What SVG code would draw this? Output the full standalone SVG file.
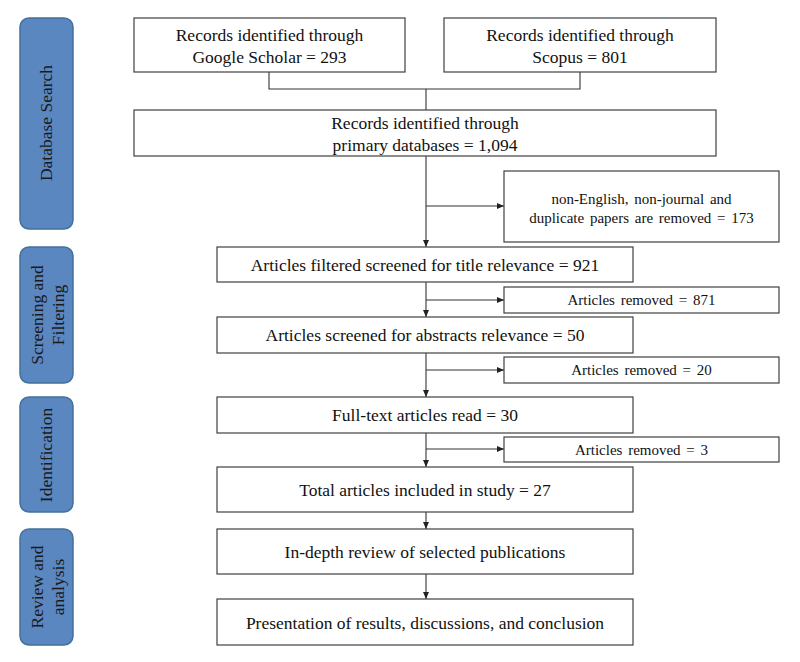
<svg xmlns="http://www.w3.org/2000/svg" width="800" height="662" viewBox="0 0 800 662">
<style>
.box{fill:#fff;stroke:#404040;stroke-width:1.2}
.side{fill:#5b87c0;stroke:#41719c;stroke-width:1.5}
.t{font-family:"Liberation Serif","Times New Roman",serif;font-size:17.5px;fill:#111;text-anchor:middle}
.s{font-family:"Liberation Serif","Times New Roman",serif;font-size:15px;fill:#111;text-anchor:middle;word-spacing:2px}
.st{font-family:"Liberation Serif","Times New Roman",serif;font-size:17.5px;fill:#1a1a1a;text-anchor:middle}
.c{fill:none;stroke:#333;stroke-width:1.1}
</style>
<defs>
<marker id="ah" markerWidth="8" markerHeight="8" refX="7" refY="4" orient="auto" markerUnits="userSpaceOnUse">
<path d="M0,1 L7,4 L0,7 Z" fill="#222"/>
</marker>
</defs>
<g id="side-database">
<rect class="side" x="20" y="18" width="53" height="211" rx="9"/>
<text class="st" transform="translate(47,123) rotate(-90)" y="5">Database Search</text>
</g>
<g id="side-screening">
<rect class="side" x="20" y="247" width="53" height="136" rx="9"/>
<text class="st" transform="translate(47,315) rotate(-90)"><tspan x="0" y="-4.5">Screening and</tspan><tspan x="0" y="16.5">Filtering</tspan></text>
</g>
<g id="side-identification">
<rect class="side" x="20" y="397" width="53" height="115" rx="9"/>
<text class="st" transform="translate(47,455) rotate(-90)" y="5">Identification</text>
</g>
<g id="side-review">
<rect class="side" x="20" y="529" width="53" height="116" rx="9"/>
<text class="st" transform="translate(47,587) rotate(-90)"><tspan x="0" y="-4.5">Review and</tspan><tspan x="0" y="16.5">analysis</tspan></text>
</g>

<g id="connectors">
<path class="c" d="M269,72 V89 H580 V72"/>
<path class="c" d="M426,89 V110"/>
<path class="c" d="M426,156 V247" marker-end="url(#ah)"/>
<path class="c" d="M426,206 H504" marker-end="url(#ah)"/>
<path class="c" d="M426,282 V317" marker-end="url(#ah)"/>
<path class="c" d="M426,300 H504" marker-end="url(#ah)"/>
<path class="c" d="M426,353 V397" marker-end="url(#ah)"/>
<path class="c" d="M426,370 H504" marker-end="url(#ah)"/>
<path class="c" d="M426,433 V467" marker-end="url(#ah)"/>
<path class="c" d="M426,449 H504" marker-end="url(#ah)"/>
<path class="c" d="M426,512 V529" marker-end="url(#ah)"/>
<path class="c" d="M426,574 V599" marker-end="url(#ah)"/>
</g>

<g id="google">
<rect class="box" x="134" y="18" width="271" height="54"/>
<text class="t" x="269.5" y="41">Records identified through</text>
<text class="t" x="269.5" y="62.5">Google Scholar = 293</text>
</g>
<g id="scopus">
<rect class="box" x="444" y="18" width="272" height="54"/>
<text class="t" x="580" y="41">Records identified through</text>
<text class="t" x="580" y="62.5">Scopus = 801</text>
</g>
<g id="primary">
<rect class="box" x="134" y="110" width="582" height="46"/>
<text class="t" x="425" y="129">Records identified through</text>
<text class="t" x="425" y="151">primary databases = 1,094</text>
</g>
<g id="nonenglish">
<rect class="box" x="504" y="171" width="275" height="71"/>
<text class="s" x="641.5" y="203.5">non-English, non-journal and</text>
<text class="s" x="641.5" y="222.5">duplicate papers are removed  =  173</text>
</g>
<g id="title-screen">
<rect class="box" x="217" y="247" width="416" height="35"/>
<text class="t" x="425" y="270.5">Articles filtered screened for title relevance = 921</text>
</g>
<g id="removed-871">
<rect class="box" x="504" y="287" width="275" height="26"/>
<text class="s" x="641.5" y="305">Articles removed = 871</text>
</g>
<g id="abstract-screen">
<rect class="box" x="217" y="317" width="416" height="36"/>
<text class="t" x="425" y="341">Articles screened for abstracts relevance = 50</text>
</g>
<g id="removed-20">
<rect class="box" x="504" y="357" width="275" height="26"/>
<text class="s" x="641.5" y="375">Articles removed = 20</text>
</g>
<g id="fulltext">
<rect class="box" x="217" y="397" width="416" height="36"/>
<text class="t" x="425" y="421">Full-text articles read = 30</text>
</g>
<g id="removed-3">
<rect class="box" x="504" y="437" width="275" height="25"/>
<text class="s" x="641.5" y="455">Articles removed = 3</text>
</g>
<g id="total">
<rect class="box" x="217" y="467" width="416" height="45"/>
<text class="t" x="425" y="496">Total articles included in study = 27</text>
</g>
<g id="review">
<rect class="box" x="217" y="529" width="416" height="45"/>
<text class="t" x="425" y="558">In-depth review of selected publications</text>
</g>
<g id="presentation">
<rect class="box" x="217" y="599" width="416" height="46"/>
<text class="t" x="425" y="628.5">Presentation of results, discussions,  and conclusion</text>
</g>
</svg>
